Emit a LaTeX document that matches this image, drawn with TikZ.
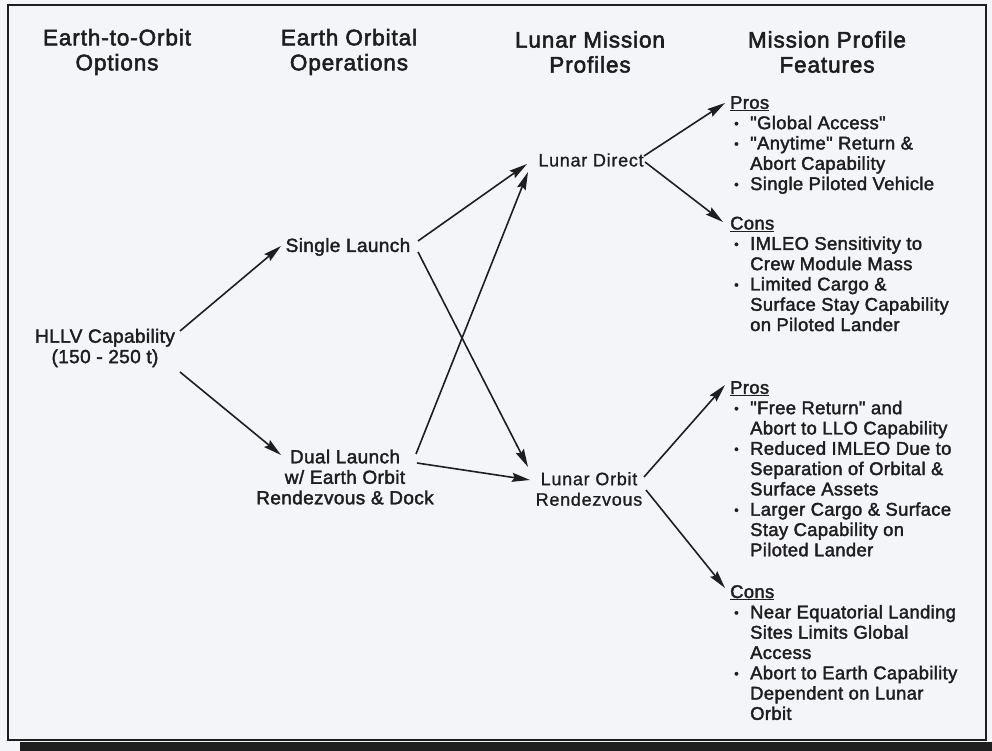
\documentclass[tikz,border=0pt]{standalone}
\usepackage{fontspec}
\setmainfont{Liberation Sans}
\newfontfamily\hdfont{Liberation Sans}[LetterSpace=4,FakeBold=2.5]
\newfontfamily\lightfont{Liberation Sans}[LetterSpace=4,FakeBold=1]
\newfontfamily\medfont{Liberation Sans}[LetterSpace=2,FakeBold=2]
\usetikzlibrary{arrows.meta}
\definecolor{paper}{RGB}{244,245,248}
\definecolor{ink}{RGB}{30,30,32}
\newcommand\fitem{\hspace*{4pt}\makebox[16pt][l]{\raisebox{1.2pt}{\scalebox{0.7}{\textbullet}}}}
\newcommand\fcont{\hspace*{20pt}}
\begin{document}
\begin{tikzpicture}[x=1pt,y=-1pt,
  hdr/.style={align=center,inner sep=0pt,text=ink,font=\hdfont\fontsize{22.5}{25}\selectfont},
  opt/.style={align=center,inner sep=0pt,text=ink,font=\medfont\fontsize{19}{20.5}\selectfont},
  prof/.style={align=center,inner sep=0pt,text=ink,font=\lightfont\fontsize{18}{20.5}\selectfont},
  feat/.style={align=left,anchor=north west,inner sep=0pt,text=ink,font=\medfont\fontsize{18.4}{20.3}\selectfont},
  arr/.style={-{Stealth[length=18pt,width=9pt,inset=2.5pt]},line width=1.6pt,draw=ink}]
\useasboundingbox (0,0) rectangle (992,751);
\fill[paper] (0,0) rectangle (992,751);
\fill[black!88] (20,742) rectangle (992,751);
\draw[ink,line width=1.5pt] (8,5) rectangle (986,740);

% headers
\node[hdr] (h1) at (117,52) {Earth-to-Orbit\\Options};
\node[hdr] (h2) at (349,52) {Earth Orbital\\Operations};
\node[hdr] (h3) at (590,52) {Lunar Mission\\Profiles};
\node[hdr] (h4) at (827,52) {Mission Profile\\Features};

% nodes
\node[opt] (hllv) at (105,348) {HLLV Capability\\(150 - 250 t)};
\node[opt] (single) at (348,247) {Single Launch};
\node[opt] (dual) at (345,477) {Dual Launch\\w/ Earth Orbit\\Rendezvous \& Dock};
\node[prof] (ld) at (591,160) {Lunar Direct};
\node[prof] (lor) at (589,489) {Lunar Orbit\\Rendezvous};

\node[feat] (pros1) at (730,96) {\underline{Pros}\\
\fitem"Global Access"\\
\fitem"Anytime" Return \&\\
\fcont Abort Capability\\
\fitem Single Piloted Vehicle};
\node[feat] (cons1) at (730,216.5) {\underline{Cons}\\
\fitem IMLEO Sensitivity to\\
\fcont Crew Module Mass\\
\fitem Limited Cargo \&\\
\fcont Surface Stay Capability\\
\fcont on Piloted Lander};
\node[feat] (pros2) at (730,381) {\underline{Pros}\\
\fitem"Free Return" and\\
\fcont Abort to LLO Capability\\
\fitem Reduced IMLEO Due to\\
\fcont Separation of Orbital \&\\
\fcont Surface Assets\\
\fitem Larger Cargo \& Surface\\
\fcont Stay Capability on\\
\fcont Piloted Lander};
\node[feat] (cons2) at (730,585) {\underline{Cons}\\
\fitem Near Equatorial Landing\\
\fcont Sites Limits Global\\
\fcont Access\\
\fitem Abort to Earth Capability\\
\fcont Dependent on Lunar\\
\fcont Orbit};

% connectors
\draw[arr] ([shift={(75,-17)}]hllv.center) -- ([shift={(-67,-1)}]single.center);
\draw[arr] ([shift={(75,24)}]hllv.center) -- ([shift={(-64,-22)}]dual.center);
\draw[arr] ([shift={(70,-6)}]single.center) -- ([shift={(-64,4)}]ld.center);
\draw[arr] ([shift={(70,5)}]single.center) -- ([shift={(-61,-22)}]lor.center);
\draw[arr] ([shift={(71,-23)}]dual.center) -- ([shift={(-63,12)}]ld.center);
\draw[arr] ([shift={(72,-14)}]dual.center) -- ([shift={(-59,-9)}]lor.center);
\draw[arr] ([shift={(53,-4)}]ld.center) -- ([shift={(-5,7)}]pros1.north west);
\draw[arr] ([shift={(54,2)}]ld.center) -- ([shift={(-7,5.5)}]cons1.north west);
\draw[arr] ([shift={(55,-12)}]lor.center) -- ([shift={(-5,4)}]pros2.north west);
\draw[arr] ([shift={(57,1)}]lor.center) -- ([shift={(-5,3)}]cons2.north west);
\end{tikzpicture}
\end{document}
